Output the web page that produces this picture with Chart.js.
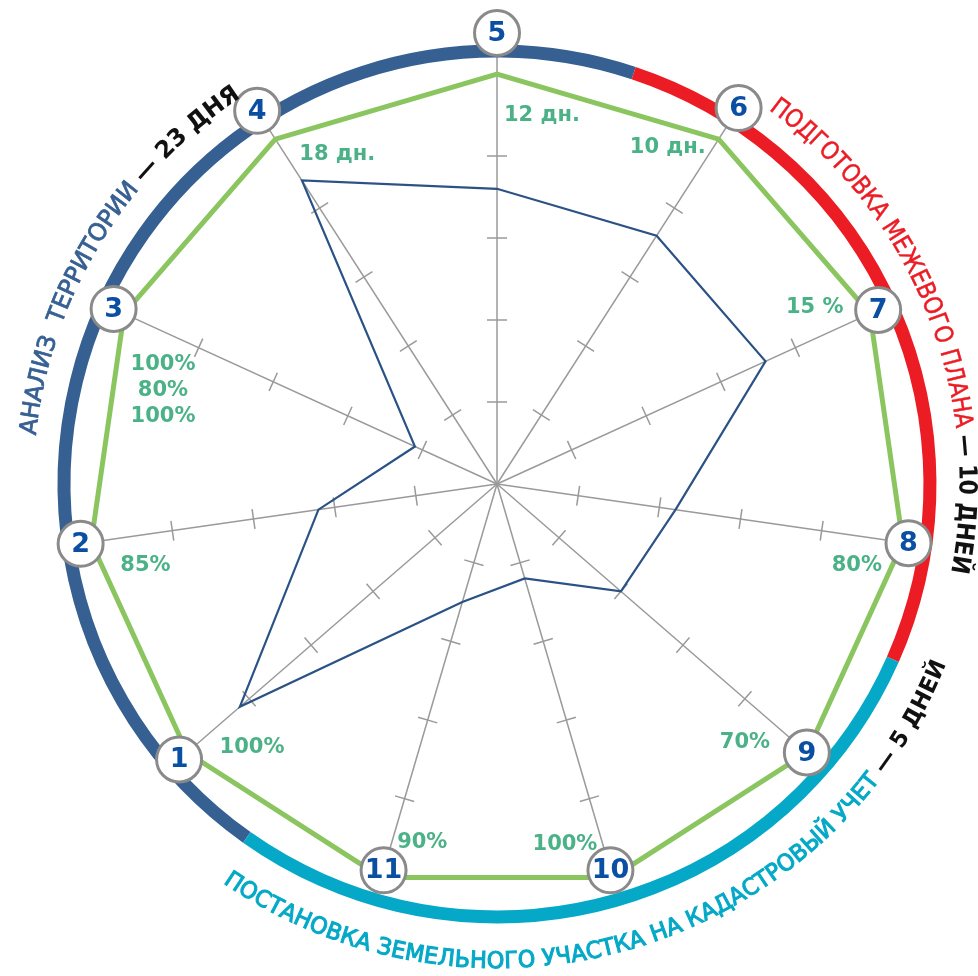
<!DOCTYPE html>
<html lang="ru">
<head>
<meta charset="utf-8">
<title>Этапы</title>
<script src="https://cdn.jsdelivr.net/npm/chart.js@4.4.1/dist/chart.umd.min.js"></script>
<style>
    html, body { margin: 0; padding: 0; background: #fff; }
    #wrap { width: 978px; height: 976px; position: relative; }
</style>
</head>
<body>
<div id="wrap"><canvas id="radar"></canvas></div>
<script>
// Номера осей (этапы)
const axes = ['1', '2', '3', '4', '5', '6', '7', '8', '9', '10', '11'];
// Фактические значения (синяя линия)
const actual = [4.15, 2.2, 1.1, 4.4, 3.6, 3.6, 3.6, 2.2, 2.0, 1.2, 1.5];
// Целевой контур (зелёная линия)
const target = [5, 5, 5, 5, 5, 5, 5, 5, 5, 5, 5];
// Подписи у осей
const axisNotes = ['100%', '85%', '100%\n80%\n100%', '18 дн.', '12 дн.', '10 дн.', '15 %', '80%', '70%', '100%', '90%'];
// Этапы на внешнем кольце
const stageNames = ['АНАЛИЗ  ТЕРРИТОРИИ', 'ПОДГОТОВКА МЕЖЕВОГО ПЛАНА', 'ПОСТАНОВКА ЗЕМЕЛЬНОГО УЧАСТКА НА КАДАСТРОВЫЙ УЧЕТ'];
const stageDays = ['— 23 ДНЯ', '— 10 ДНЕЙ', '— 5 ДНЕЙ'];

const BLUE = '#376092', RED = '#ec1c24', CYAN = '#05a9c7';
const NOTE_COLOR = '#4bb186';
const FONT = '"DejaVu Sans", Verdana, sans-serif';

// где стоят подписи: [сдвиг угла в градусах, значение по шкале]
const notePlace = [[-6.2, 4.39], [-4.8, 4.4], [-8.9, 4.23], [6.9, 4.47], [6.95, 4.53], [-5.8, 4.6],
                   [-4.45, 4.43], [4.6, 4.5], [5.3, 4.37], [5.7, 4.48], [-4.6, 4.47]];
// где стоят кружки с номерами (по шкале)
const circleAt = [5.13, 5.13, 5.14, 5.41, 5.5, 5.45, 5.11, 5.07, 5.0, 4.91, 4.91];

// сегменты кольца: [от, до] в градусах от верха по часовой
const ringParts = [[215.3, 378.4, BLUE], [18.4, 113.9, RED], [113.9, 215.3, CYAN]];

const rad = d => d * Math.PI / 180;

// текст по дуге; если не влезает — буквы сужаются
function arcText(ctx, cx, cy, r, fromDeg, toDeg, parts) {
    const chars = [];
    parts.forEach(p => {
        ctx.font = p.font;
        for (const ch of p.text) chars.push({ ch, p, w: ctx.measureText(ch).width });
    });
    const total = chars.reduce((s, c) => s + c.w, 0);
    const dir = toDeg > fromDeg ? 1 : -1;
    const len = Math.abs(rad(toDeg - fromDeg)) * r;
    let k = 1, gap = (len - total) / (chars.length - 1);
    if (gap < 0) { k = len / total; gap = 0; }
    let a = rad(fromDeg);
    chars.forEach(c => {
        const w = c.w * k;
        const mid = a + dir * (w / 2) / r;
        ctx.save();
        ctx.translate(cx + r * Math.sin(mid), cy - r * Math.cos(mid));
        ctx.rotate(dir > 0 ? mid : mid - Math.PI);
        ctx.scale(k, 1);
        ctx.font = c.p.font;
        ctx.fillStyle = c.p.color;
        ctx.textAlign = 'center';
        ctx.textBaseline = 'middle';
        ctx.fillText(c.ch, 0, 0);
        if (c.p.stroke) {
            ctx.strokeStyle = c.p.color;
            ctx.lineWidth = c.p.stroke;
            ctx.strokeText(c.ch, 0, 0);
        }
        ctx.restore();
        a += dir * (w + gap) / r;
    });
}

const decor = {
    id: 'decor',
    beforeDatasetsDraw(chart) {
        // оси и засечки
        const s = chart.scales.r, ctx = chart.ctx;
        ctx.save();
        ctx.strokeStyle = '#9a9a9a';
        ctx.lineWidth = 1.5;
        axes.forEach((_, i) => {
            const end = s.getPointPosition(i, s.getDistanceFromCenterForValue(circleAt[i]));
            ctx.beginPath();
            ctx.moveTo(s.xCenter, s.yCenter);
            ctx.lineTo(end.x, end.y);
            ctx.stroke();
            s.ticks.forEach(t => {
                if (t.value <= 0 || t.value >= 5) return;
                const p = s.getPointPosition(i, s.getDistanceFromCenterForValue(t.value));
                const a = s.getIndexAngle(i);
                const dx = Math.cos(a) * 10, dy = Math.sin(a) * 10;
                ctx.beginPath();
                ctx.moveTo(p.x - dx, p.y - dy);
                ctx.lineTo(p.x + dx, p.y + dy);
                ctx.stroke();
            });
        });
        ctx.restore();
    },
    afterDatasetsDraw(chart) {
        const s = chart.scales.r, ctx = chart.ctx;
        const cx = s.xCenter, cy = s.yCenter;
        ctx.save();

        // цветное кольцо
        const ringR = s.getDistanceFromCenterForValue(5.28);
        ctx.lineWidth = 13;
        ctx.lineCap = 'butt';
        ringParts.forEach(([from, to, color]) => {
            ctx.strokeStyle = color;
            ctx.beginPath();
            ctx.arc(cx, cy, ringR, rad(from - 90), rad(to - 90));
            ctx.stroke();
        });

        // кружки с номерами
        axes.forEach((label, i) => {
            const p = s.getPointPosition(i, s.getDistanceFromCenterForValue(circleAt[i]));
            ctx.beginPath();
            ctx.arc(p.x, p.y, 22.5, 0, Math.PI * 2);
            ctx.fillStyle = '#fff';
            ctx.fill();
            ctx.lineWidth = 3;
            ctx.strokeStyle = '#8a8a8a';
            ctx.stroke();
            ctx.fillStyle = '#0b4fa2';
            ctx.font = 'bold 27px ' + FONT;
            ctx.textAlign = 'center';
            ctx.textBaseline = 'middle';
            ctx.fillText(label, p.x, p.y + 1);
        });

        // подписи значений
        ctx.fillStyle = NOTE_COLOR;
        ctx.font = 'bold 21px ' + FONT;
        axisNotes.forEach((txt, i) => {
            const [off, v] = notePlace[i];
            const p = s.getPointPosition(i, s.getDistanceFromCenterForValue(v), rad(off));
            const lines = txt.split('\n');
            lines.forEach((ln, k) => {
                ctx.fillText(ln, p.x, p.y + (k - (lines.length - 1) / 2) * 26);
            });
        });

        // надписи по дуге
        arcText(ctx, cx, cy, 470, 276, 326.5, [
            { text: stageNames[0] + ' ', font: '24px ' + FONT, color: BLUE, stroke: 0.8 },
            { text: stageDays[0], font: 'bold 24px ' + FONT, color: '#111' }
        ]);
        arcText(ctx, cx, cy, 469, 36, 101, [
            { text: stageNames[1] + ' ', font: '25px ' + FONT, color: RED, stroke: 0.5 },
            { text: stageDays[1], font: 'bold 25px ' + FONT, color: '#111' }
        ]);
        arcText(ctx, cx, cy, 478, 214.5, 111.8, [
            { text: stageNames[2] + ' ', font: '23px ' + FONT, color: CYAN, stroke: 1.1 },
            { text: stageDays[2], font: 'bold 23px ' + FONT, color: '#111' }
        ]);

        ctx.restore();
    }
};

new Chart(document.getElementById('radar'), {
    type: 'radar',
    data: {
        labels: axes,
        datasets: [
            {
                data: actual,
                borderColor: '#2b5285',
                borderWidth: 2.2,
                pointRadius: 0,
                fill: false
            },
            {
                data: target,
                borderColor: '#8bc560',
                borderWidth: 5,
                pointRadius: 0,
                fill: false
            }
        ]
    },
    options: {
        responsive: true,
        maintainAspectRatio: false,
        animation: false,
        layout: { padding: { left: 46, right: 30, top: 33, bottom: 41 } },
        plugins: {
            legend: { display: false },
            tooltip: { enabled: false }
        },
        scales: {
            r: {
                min: 0,
                max: 5.5,
                startAngle: 7 * 360 / 11,
                ticks: { display: false, stepSize: 1 },
                grid: { display: false },
                angleLines: { display: false },
                pointLabels: { display: false }
            }
        }
    },
    plugins: [decor]
});
</script>
</body>
</html>
